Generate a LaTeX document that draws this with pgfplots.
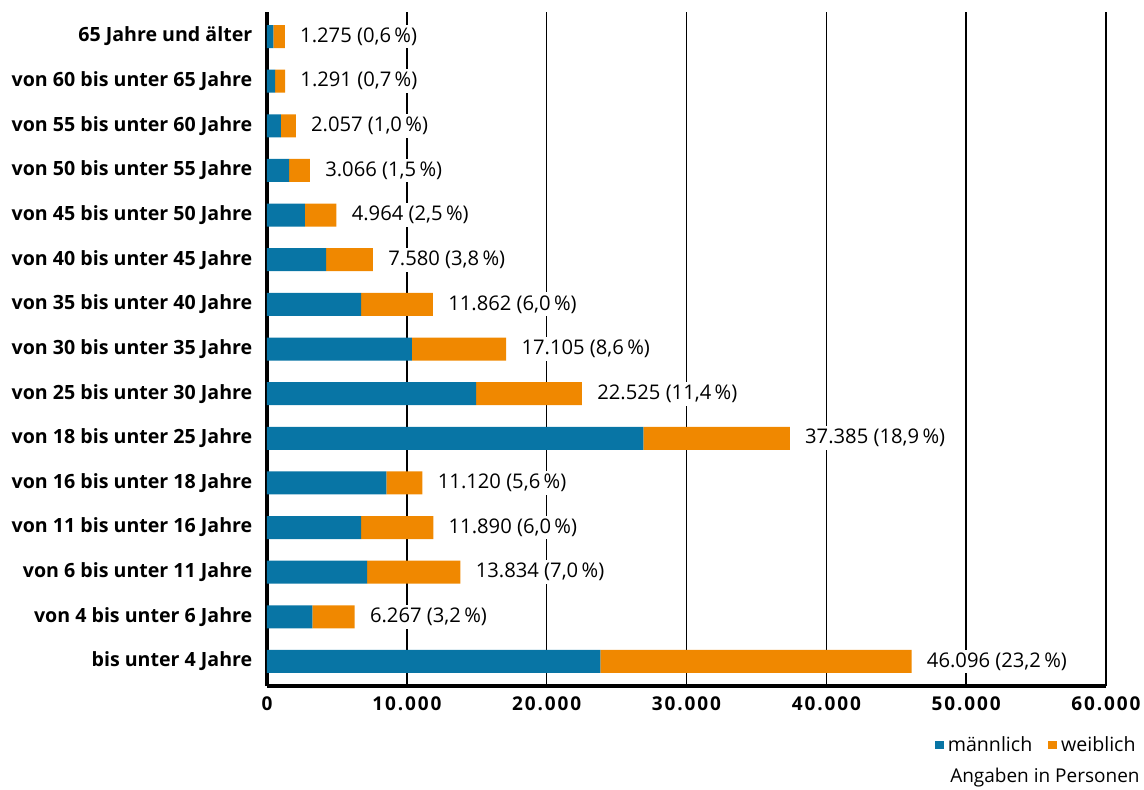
\documentclass[border=0pt]{standalone}
\usepackage{pgfplots}
\pgfplotsset{compat=1.18}
\usepackage{pgfplotstable}
\usepackage{fontspec}
\setmainfont{Open Sans}
\definecolor{mblue}{RGB}{8,117,165}
\definecolor{worange}{RGB}{240,136,0}

\pgfplotstableread[col sep=semicolon]{
y;m;w;label
0;23835;22261;46.096 (23,2\,\%)
1;3245;3022;6.267 (3,2\,\%)
2;7160;6674;13.834 (7,0\,\%)
3;6730;5160;11.890 (6,0\,\%)
4;8540;2580;11.120 (5,6\,\%)
5;26915;10470;37.385 (18,9\,\%)
6;14960;7565;22.525 (11,4\,\%)
7;10355;6750;17.105 (8,6\,\%)
8;6730;5132;11.862 (6,0\,\%)
9;4225;3355;7.580 (3,8\,\%)
10;2700;2264;4.964 (2,5\,\%)
11;1575;1491;3.066 (1,5\,\%)
12;1000;1057;2.057 (1,0\,\%)
13;590;701;1.291 (0,7\,\%)
14;450;825;1.275 (0,6\,\%)
}\data

\begin{document}
\fontsize{9.5pt}{11pt}\selectfont
\begin{tikzpicture}
\begin{axis}[
  at={(0,0)}, anchor=south west,
  scale only axis,
  width=419.5pt, height=337pt,
  xbar stacked,
  bar width=11.5pt,
  xmin=0, xmax=60000,
  ymin=-0.55, ymax=14.55,
  axis x line=bottom, axis y line=left,
  axis line style={line width=2pt, -},
  xmajorgrids, grid style={black, line width=0.8pt},
  major tick length=0pt,
  xtick={0,10000,...,60000},
  ytick={0,...,14},
  yticklabels={bis unter 4 Jahre, von 4 bis unter 6 Jahre, von 6 bis unter 11 Jahre, von 11 bis unter 16 Jahre, von 16 bis unter 18 Jahre, von 18 bis unter 25 Jahre, von 25 bis unter 30 Jahre, von 30 bis unter 35 Jahre, von 35 bis unter 40 Jahre, von 40 bis unter 45 Jahre, von 45 bis unter 50 Jahre, von 50 bis unter 55 Jahre, von 55 bis unter 60 Jahre, von 60 bis unter 65 Jahre, 65 Jahre und älter},
  yticklabel style={font=\fontsize{9.8pt}{11pt}\selectfont\bfseries, xshift=-4pt},
  xticklabel style={font=\bfseries\addfontfeature{LetterSpace=10}, yshift=-2pt},
  /pgf/number format/assume math mode=true,
  /pgf/number format/.cd, 1000 sep={.}, use comma, fixed,
  /pgfplots/.cd,
  scaled x ticks=false,
  clip=false,
  legend style={at={(1.0405,-0.0875)}, anchor=east, draw=none, fill=none, legend columns=2, /tikz/every even column/.append style={column sep=6pt}, inner sep=0pt, font=\fontsize{9.8pt}{11pt}\selectfont},
  legend image code/.code={\fill[#1] (0pt,-2.2pt) rectangle (4.4pt,2.2pt);},
]
\addplot[fill=mblue, draw=none] table[x=m, y=y] {\data};
\addplot[fill=worange, draw=none,
  point meta=explicit symbolic,
  visualization depends on={\thisrow{w}*0.00349583 \as \hshift},
  nodes near coords,
  every node near coord/.append style={anchor=west, fill=white, inner sep=1.5pt, xshift={\hshift*1pt+6pt}, font=\fontsize{10.1pt}{11pt}\selectfont}
] table[x=w, y=y, meta=label] {\data};
\legend{männlich, weiblich}
\end{axis}
\node[anchor=east, inner sep=0pt] at (436.5pt,-46pt) {Angaben in Personen};
\pgfresetboundingbox
\path[use as bounding box] (-133.5pt,-51.5pt) rectangle (438.5pt,343pt);
\end{tikzpicture}
\end{document}
